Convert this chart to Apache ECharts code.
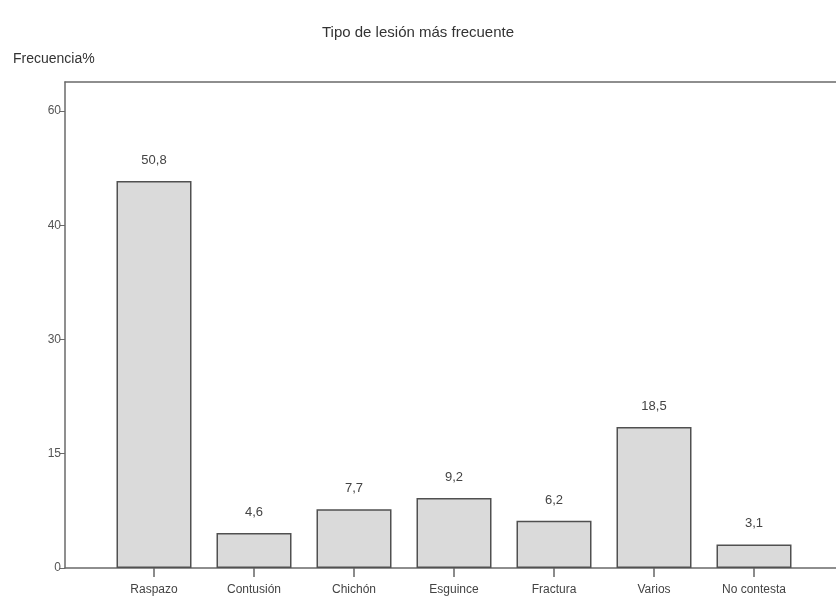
<!DOCTYPE html>
<html>
<head>
<meta charset="utf-8">
<script src="https://cdn.jsdelivr.net/npm/echarts@6/dist/echarts.min.js"></script>
<style>html,body{margin:0;padding:0;background:#fff}#c{width:836px;height:602px}</style>
</head>
<body>
<div id="c"></div>
<script>
var categories = ['Raspazo', 'Contusión', 'Chichón', 'Esguince', 'Fractura', 'Varios', 'No contesta'];
var values = [50.8, 4.6, 7.7, 9.2, 6.2, 18.5, 3.1];
var tickValues = [0, 15, 30, 45, 60];
var tickLabels = ['0', '15', '30', '40', '60'];

var chart = echarts.init(document.getElementById('c'), null, {renderer: 'canvas'});
var font = '"Liberation Sans", Arial, sans-serif';
var frameLine = {show: true, onZero: false, lineStyle: {color: '#6a6a6a', width: 1.5}};
chart.setOption({
  backgroundColor: '#fff',
  animation: false,
  textStyle: {fontFamily: font},
  title: [
    {text: 'Tipo de lesión más frecuente', left: 'center', top: 20,
     textStyle: {fontFamily: font, fontSize: 15, fontWeight: 'normal', color: '#333'}},
    {text: 'Frecuencia%', left: 8, top: 47,
     textStyle: {fontFamily: font, fontSize: 14, fontWeight: 'normal', color: '#333'}}
  ],
  grid: [
    {left: 104, right: 32, top: 82, bottom: 34},
    {left: 65, right: 0, top: 82, bottom: 34}
  ],
  xAxis: [
    {type: 'category', gridIndex: 0, data: categories,
     axisLine: {show: false},
     axisTick: {show: true, alignWithLabel: true, length: 9, lineStyle: {color: '#666', width: 1.5}},
     axisLabel: {fontFamily: font, fontSize: 12, color: '#444', margin: 16}},
    {type: 'value', gridIndex: 1, position: 'top', min: 0, max: 1,
     axisLine: frameLine, axisTick: {show: false}, axisLabel: {show: false}, splitLine: {show: false}},
    {type: 'value', gridIndex: 1, position: 'bottom', min: 0, max: 1,
     axisLine: frameLine, axisTick: {show: false}, axisLabel: {show: false}, splitLine: {show: false}}
  ],
  yAxis: [
    {type: 'value', gridIndex: 0, min: 0, max: 63.8, interval: 15, offset: 39,
     axisLine: {show: true, lineStyle: {color: '#6a6a6a', width: 1.5}},
     axisTick: {show: true, length: 5, lineStyle: {color: '#6a6a6a'}},
     splitLine: {show: false},
     axisLabel: {fontFamily: font, fontSize: 12, color: '#555', margin: 4, showMaxLabel: false,
       formatter: function (v) { var i = tickValues.indexOf(v); return i >= 0 ? tickLabels[i] : ''; }}},
    {type: 'value', gridIndex: 1, show: false, min: 0, max: 1}
  ],
  series: [{
    type: 'bar', xAxisIndex: 0, yAxisIndex: 0, data: values, barWidth: '75%',
    itemStyle: {color: '#dadada', borderColor: '#505050', borderWidth: 1.5},
    label: {show: true, position: 'top', distance: 14, fontFamily: font, fontSize: 13, color: '#444',
      formatter: function (p) { return String(p.value).replace('.', ','); }}
  }]
});
</script>
</body>
</html>
